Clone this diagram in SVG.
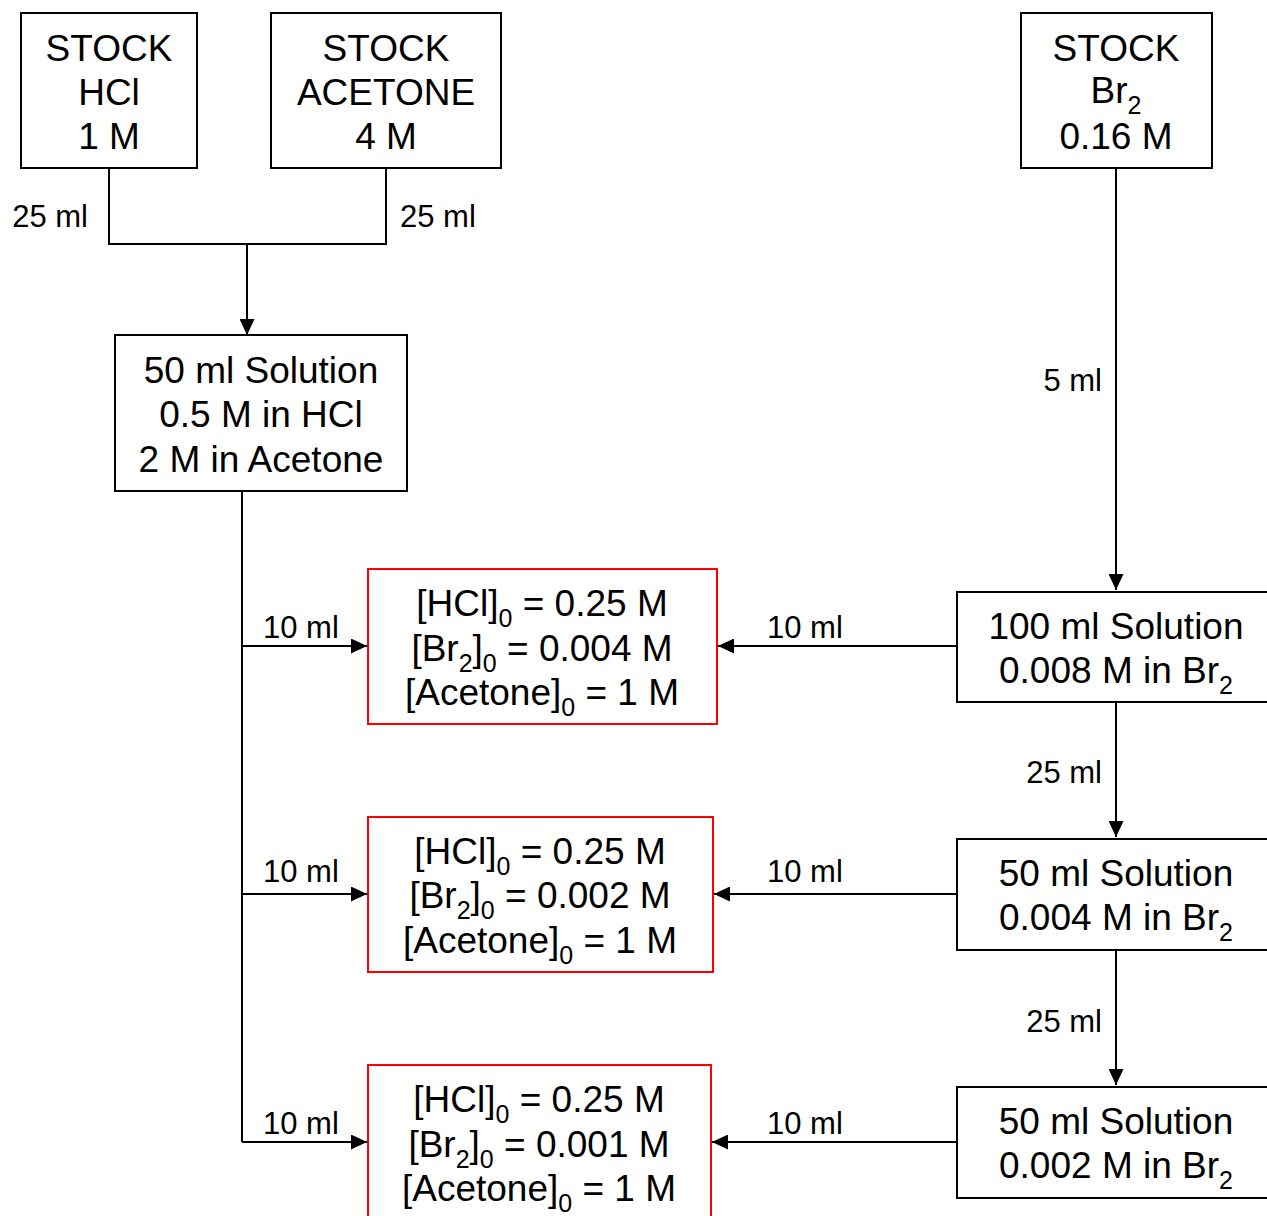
<svg xmlns="http://www.w3.org/2000/svg" width="1267" height="1216" viewBox="0 0 1267 1216">
<style>
text{font-family:"Liberation Sans",Arial,sans-serif;fill:#000}
.m{font-size:37px;text-anchor:middle}
.l{font-size:31px}
.e{text-anchor:end}
.s{font-size:25px}
.box{fill:#fff;stroke:#000;stroke-width:2}
.red{fill:#fff;stroke:#ff0000;stroke-width:2}
.c{fill:none;stroke:#000;stroke-width:2}
</style>
<defs>
<marker id="ah" markerUnits="userSpaceOnUse" markerWidth="16" markerHeight="15" refX="16" refY="7.5" orient="auto">
<path d="M0,0 L16,7.5 L0,15 z" fill="#000"/>
</marker>
</defs>
<rect width="1267" height="1216" fill="#fff"/>
<g id="connectors">
<polyline class="c" points="109,168 109,244 386,244 386,168"/>
<line class="c" x1="247" y1="244" x2="247" y2="335" marker-end="url(#ah)"/>
<line class="c" x1="1116" y1="168" x2="1116" y2="590" marker-end="url(#ah)"/>
<line class="c" x1="242" y1="491" x2="242" y2="1142"/>
<line class="c" x1="242" y1="646" x2="367" y2="646" marker-end="url(#ah)"/>
<line class="c" x1="242" y1="894" x2="367" y2="894" marker-end="url(#ah)"/>
<line class="c" x1="242" y1="1142" x2="367" y2="1142" marker-end="url(#ah)"/>
<line class="c" x1="957" y1="646" x2="718" y2="646" marker-end="url(#ah)"/>
<line class="c" x1="957" y1="894" x2="714" y2="894" marker-end="url(#ah)"/>
<line class="c" x1="957" y1="1142" x2="712" y2="1142" marker-end="url(#ah)"/>
<line class="c" x1="1116" y1="702" x2="1116" y2="837" marker-end="url(#ah)"/>
<line class="c" x1="1116" y1="950" x2="1116" y2="1085" marker-end="url(#ah)"/>
<text class="l e" x="88" y="227">25 ml</text>
<text class="l" x="400" y="227">25 ml</text>
<text class="l e" x="1102" y="391">5 ml</text>
<text class="l e" x="1102" y="783">25 ml</text>
<text class="l e" x="1102" y="1032">25 ml</text>
<text class="l" x="263" y="638">10 ml</text>
<text class="l" x="263" y="882">10 ml</text>
<text class="l" x="263" y="1134">10 ml</text>
<text class="l" x="767" y="638">10 ml</text>
<text class="l" x="767" y="882">10 ml</text>
<text class="l" x="767" y="1134">10 ml</text>
</g>
<g id="stock-hcl">
<rect class="box" x="21" y="13" width="176" height="155"/>
<text class="m" x="109" y="61">STOCK</text>
<text class="m" x="109" y="105">HCl</text>
<text class="m" x="109" y="149">1 M</text>
</g>
<g id="stock-acetone">
<rect class="box" x="271" y="13" width="230" height="155"/>
<text class="m" x="386" y="61">STOCK</text>
<text class="m" x="386" y="105">ACETONE</text>
<text class="m" x="386" y="149">4 M</text>
</g>
<g id="stock-br2">
<rect class="box" x="1021" y="13" width="191" height="155"/>
<text class="m" x="1116" y="61">STOCK</text>
<text class="m" x="1116" y="103">Br<tspan class="s" dy="11">2</tspan></text>
<text class="m" x="1116" y="149">0.16 M</text>
</g>
<g id="solution-hcl-acetone">
<rect class="box" x="115" y="335" width="292" height="156"/>
<text class="m" x="261" y="383">50 ml Solution</text>
<text class="m" x="261" y="427">0.5 M in HCl</text>
<text class="m" x="261" y="472">2 M in Acetone</text>
</g>
<g id="solution-br2-100">
<rect class="box" x="957" y="592" width="320" height="110"/>
<text class="m" x="1116" y="639">100 ml Solution</text>
<text class="m" x="1116" y="683">0.008 M in Br<tspan class="s" dy="11">2</tspan></text>
</g>
<g id="solution-br2-50a">
<rect class="box" x="957" y="839" width="320" height="111"/>
<text class="m" x="1116" y="886">50 ml Solution</text>
<text class="m" x="1116" y="930">0.004 M in Br<tspan class="s" dy="11">2</tspan></text>
</g>
<g id="solution-br2-50b">
<rect class="box" x="957" y="1087" width="320" height="111"/>
<text class="m" x="1116" y="1134">50 ml Solution</text>
<text class="m" x="1116" y="1178">0.002 M in Br<tspan class="s" dy="11">2</tspan></text>
</g>
<g id="mix-1">
<rect class="red" x="368" y="569" width="349" height="155"/>
<text class="m" x="542" y="616">[HCl]<tspan class="s" dy="11">0</tspan><tspan dy="-11"> = 0.25 M</tspan></text>
<text class="m" x="542" y="661">[Br<tspan class="s" dy="11">2</tspan><tspan dy="-11">]</tspan><tspan class="s" dy="11">0</tspan><tspan dy="-11"> = 0.004 M</tspan></text>
<text class="m" x="542" y="705">[Acetone]<tspan class="s" dy="11">0</tspan><tspan dy="-11"> = 1 M</tspan></text>
</g>
<g id="mix-2">
<rect class="red" x="368" y="817" width="345" height="155"/>
<text class="m" x="540" y="864">[HCl]<tspan class="s" dy="11">0</tspan><tspan dy="-11"> = 0.25 M</tspan></text>
<text class="m" x="540" y="908">[Br<tspan class="s" dy="11">2</tspan><tspan dy="-11">]</tspan><tspan class="s" dy="11">0</tspan><tspan dy="-11"> = 0.002 M</tspan></text>
<text class="m" x="540" y="953">[Acetone]<tspan class="s" dy="11">0</tspan><tspan dy="-11"> = 1 M</tspan></text>
</g>
<g id="mix-3">
<rect class="red" x="368" y="1065" width="343" height="160"/>
<text class="m" x="539" y="1112">[HCl]<tspan class="s" dy="11">0</tspan><tspan dy="-11"> = 0.25 M</tspan></text>
<text class="m" x="539" y="1157">[Br<tspan class="s" dy="11">2</tspan><tspan dy="-11">]</tspan><tspan class="s" dy="11">0</tspan><tspan dy="-11"> = 0.001 M</tspan></text>
<text class="m" x="539" y="1201">[Acetone]<tspan class="s" dy="11">0</tspan><tspan dy="-11"> = 1 M</tspan></text>
</g>
</svg>
